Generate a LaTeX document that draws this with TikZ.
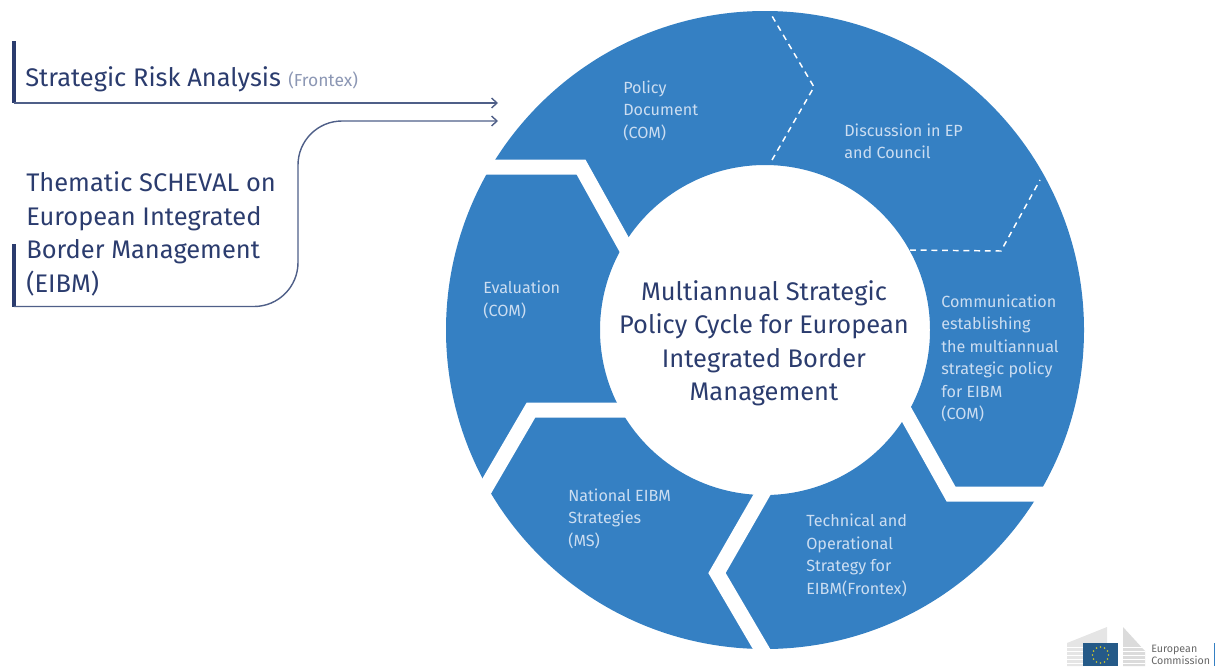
\documentclass[tikz,border=0pt]{standalone}
\usepackage{fontspec}
\setmainfont{Fira Sans}
\usetikzlibrary{arrows.meta}
\definecolor{ringblue}{HTML}{3580C3}
\definecolor{navy}{HTML}{2B3C6E}
\definecolor{flowline}{HTML}{4F5F88}
\definecolor{softtext}{HTML}{CBDDF1}
\definecolor{frontexgrey}{HTML}{8C97B4}
\tikzset{
  gap/.style={white,line width=0.375cm,miter limit=10},
  seam/.style={white,line width=1.05pt,dash pattern=on 4.2pt off 3.4pt},
  flow/.style={flowline,line width=1pt,-{Straight Barb[length=3.8pt,width=7pt]}},
  bar/.style={navy,line width=0.09cm},
  seglabel/.style={softtext,anchor=west,inner sep=0pt,align=left,font=\fontsize{11.5}{16}\selectfont},
  biglabel/.style={navy,inner sep=0pt,font=\fontsize{18.1}{23.8}\selectfont}
}
\begin{document}
\begin{tikzpicture}[x=0.025cm,y=-0.025cm]
    \useasboundingbox (0,0) rectangle (1215,666);
    \coordinate (c) at (765,330);

    % ring
    \fill[ringblue,even odd rule] (c) circle (319) (c) circle (165);

    % white gaps
    \draw[gap] (470,167) -- (581,167) -- (636,266);
    \draw[gap] (640,410) -- (531,410) -- (478,501);
    \draw[gap] (775,472) -- (717,573) -- (775,672);
    \draw[gap] (890,385) -- (951,494) -- (1060,494);

    % dashed seams
    \draw[seam] (772,160) -- (814,87) -- (772,16);
    \draw[seam] (910,250) -- (1001,251) -- (1040,180);

    \node[biglabel,align=center] (title) at (764,343.5) {Multiannual Strategic\\Policy Cycle for European\\Integrated Border\\Management};

    \node[seglabel] (policy) at (623,110.5) {Policy\\Document\\(COM)};
    \node[seglabel] (discussion) at (844,141.5) {Discussion in EP\\and Council};
    \node[seglabel] (communication) at (941,358.5) {Communication\\establishing\\the multiannual\\strategic policy\\for EIBM\\(COM)};
    \node[seglabel] (technical) at (806,555.5) {Technical and\\Operational\\Strategy for\\EIBM(Frontex)};
    \node[seglabel] (national) at (568,518.5) {National EIBM\\Strategies\\(MS)};
    \node[seglabel] (evaluation) at (483,300) {Evaluation\\(COM)};

    % inputs on the left
    \coordinate (s0) at (14,41);
    \coordinate (s1) at (14,103);
    \coordinate (s2) at (498,103);
    \coordinate (t0) at (14,244);
    \coordinate (t1) at (14,306.5);
    \coordinate (t2) at (298,121);
    \coordinate (t3) at (498,121);

    \draw[bar] (s0) -- (s1);
    \draw[bar] (t0) -- (t1);
    \draw[flow] (s1) -- (s2);
    \draw[flow,rounded corners=1.1cm] (t1) -| (t2) -- (t3);

    \node[biglabel,anchor=west] (risk) at (25,79) {Strategic Risk Analysis};
    \node[frontexgrey,anchor=west,inner sep=0pt,font=\fontsize{12.4}{14}\selectfont] (frontex) at (288,80.5) {(Frontex)};
    \node[biglabel,anchor=west,align=left] (scheval) at (26,234) {Thematic SCHEVAL on\\European Integrated\\Border Management\\(EIBM)};

    % logo
    \fill[black!10] (1067,643) -- (1107,627) -- (1107,666) -- (1067,666) -- cycle;
    \fill[black!14] (1123,627) -- (1145,651) -- (1145,666) -- (1123,666) -- cycle;
    \foreach \y in {647,651,655,659,663}
      \draw[white,line width=0.4pt] (1067,\y) -- (1145,\y);
    \fill[white] (1118,627) rectangle (1123,666);
    \fill[ringblue!70!black] (1083,643) rectangle (1118,666);
    \foreach \a in {0,30,...,330}
      \fill[yellow!80!black] (1100.5,655) ++(\a:8) circle (0.9);
    \node[black!60,anchor=west,inner sep=0pt,align=left,font=\fontsize{7.6}{8.4}\selectfont] (commission) at (1151,654.5) {European\\Commission};
    \fill[ringblue] (1213.5,643) rectangle (1215,666);
  \end{tikzpicture}
\end{document}
